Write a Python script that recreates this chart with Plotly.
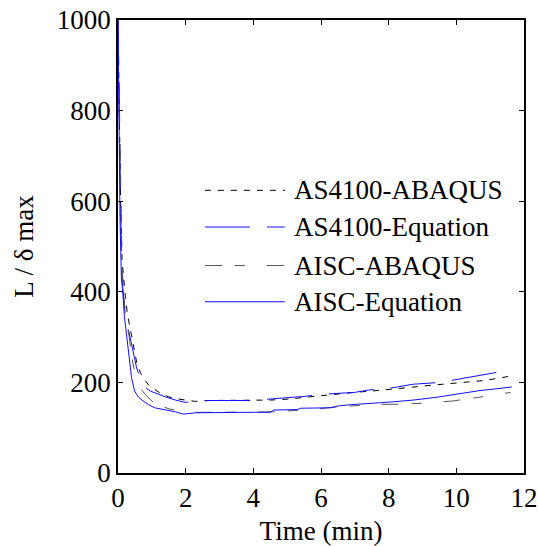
import plotly.graph_objects as go

# ---- data ----
t_as_abaqus = [0, 0.04, 0.08, 0.12, 0.16, 0.21, 0.28, 0.34, 0.40, 0.47, 0.55, 0.67, 0.78, 0.92, 1.10, 1.27, 1.50, 1.72, 2.00, 2.30, 2.60, 3.00, 3.50, 4.00, 4.50, 5.00, 5.50, 6.00, 6.50, 7.00, 7.50, 8.00, 8.50, 9.16, 9.60, 10.35, 10.80, 11.24, 11.60]
v_as_abaqus = [1000, 760, 580, 470, 430, 395, 350, 325, 300, 272, 245, 220, 206, 193, 183, 175, 168, 164, 161, 158, 160, 160, 160, 160, 161, 163, 167, 171, 175, 178, 181, 184, 188, 193, 196, 200, 204, 209, 214]

t_as_eq = [0, 0.03, 0.06, 0.10, 0.14, 0.20, 0.27, 0.35, 0.45, 0.55, 0.65, 0.75, 0.95, 1.20, 1.44, 1.70, 1.98, 2.30, 2.70, 3.30, 4.00, 4.60, 5.10, 5.50, 6.10, 6.50, 7.00, 7.40, 7.80, 8.10, 8.73, 9.52, 10.20, 10.80, 11.44, 11.64]
v_as_eq = [1000, 800, 620, 480, 410, 360, 330, 300, 262, 232, 210, 192, 181, 173, 167, 161, 156, 158, 160, 160, 160, 164, 166, 169, 174, 176, 178, 183, 187, 188, 196, 200, 209, 218, 227, 228]

t_aisc_abaqus = [0, 0.04, 0.08, 0.12, 0.17, 0.23, 0.33, 0.42, 0.53, 0.60, 0.80, 1.09, 1.54, 2.00, 2.30, 3.00, 4.00, 4.60, 5.20, 5.80, 6.30, 7.00, 7.50, 8.30, 9.00, 9.90, 10.30, 10.75, 11.20, 11.60]
v_aisc_abaqus = [1000, 780, 590, 460, 390, 345, 300, 250, 210, 192, 174, 152, 141, 136, 134, 134, 134, 135, 138, 140, 145, 149, 151, 152, 154, 159, 163, 168, 173, 178]

t_aisc_eq = [0, 0.03, 0.06, 0.10, 0.14, 0.19, 0.26, 0.30, 0.35, 0.40, 0.49, 0.60, 0.74, 0.90, 1.08, 1.25, 1.43, 1.70, 1.93, 2.30, 3.00, 4.00, 4.50, 4.60, 5.30, 5.40, 6.30, 6.50, 6.90, 7.50, 7.74, 8.10, 8.73, 9.40, 10.00, 10.70, 11.20, 11.64]
v_aisc_eq = [1000, 750, 560, 430, 400, 345, 300, 262, 235, 211, 181, 168, 159, 151, 144, 141, 139, 135, 130, 133, 134, 134, 134, 139, 140, 143, 144, 148, 151, 153, 155, 157, 161, 167, 174, 182, 186, 190]

series_names = ["AS4100-ABAQUS", "AS4100-Equation", "AISC-ABAQUS", "AISC-Equation"]
x_ticks = [0, 2, 4, 6, 8, 10, 12]
y_ticks = [0, 200, 400, 600, 800, 1000]

styles = [
    dict(color="#000000", dash="6px,7px"),
    dict(color="#1010ff", dash="45px,17px"),
    dict(color="#555555", dash="17px,13px,10px,22px"),
    dict(color="#1010ff", dash="solid"),
]
data = [(t_as_abaqus, v_as_abaqus), (t_as_eq, v_as_eq),
        (t_aisc_abaqus, v_aisc_abaqus), (t_aisc_eq, v_aisc_eq)]

FONT = "Liberation Serif"
FS = 27
fig = go.Figure()
for (t, v), name, st in zip(data, series_names, styles):
    fig.add_trace(go.Scatter(x=t, y=v, mode="lines", name=name,
                             line=dict(color=st["color"], dash=st["dash"], width=1),
                             showlegend=False))

# custom legend (lines + text) in paper coordinates
leg_y = [0.624, 0.543, 0.458, 0.378]
for yy, name, st in zip(leg_y, series_names, styles):
    fig.add_shape(type="line", xref="paper", yref="paper", x0=0.214, x1=0.411, y0=yy, y1=yy,
                  line=dict(color=st["color"], dash=st["dash"], width=1))
    fig.add_annotation(xref="paper", yref="paper", x=0.428, y=yy, text=name, showarrow=False,
                       xanchor="left", yanchor="middle", font=dict(family=FONT, size=FS, color="black"))

axis_common = dict(showgrid=False, zeroline=False, showline=True, linecolor="black", linewidth=1.5,
                   mirror="ticks", ticks="inside", ticklen=5, tickwidth=1, tickcolor="black",
                   automargin=False,
                   tickfont=dict(family=FONT, size=FS, color="black"))
fig.update_xaxes(range=[0, 12], tickvals=x_ticks, ticktext=[str(v) for v in x_ticks],
                 title=dict(text="Time (min)", font=dict(family=FONT, size=FS, color="black")),
                 **axis_common)
fig.update_yaxes(range=[0, 1000], tickvals=y_ticks, ticktext=[str(v) for v in y_ticks],
                 title=dict(text="L / δ max", font=dict(family=FONT, size=FS, color="black")),
                 **axis_common)
fig.update_layout(width=538, height=546, margin=dict(l=118, r=14, t=20, b=73),
                  paper_bgcolor="white", plot_bgcolor="white")
fig.write_html("out.html")
